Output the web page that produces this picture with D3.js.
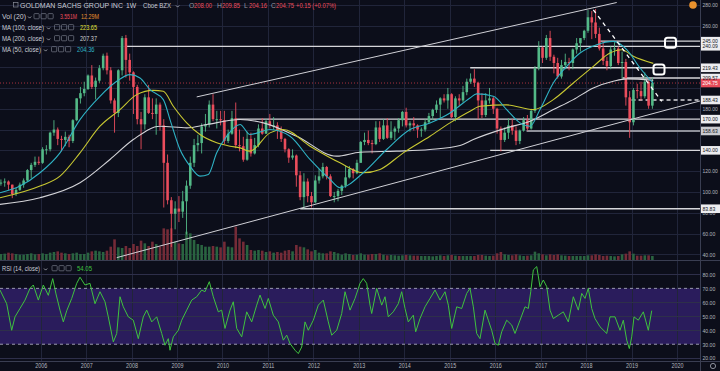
<!DOCTYPE html>
<html><head><meta charset="utf-8">
<script src="https://cdnjs.cloudflare.com/ajax/libs/d3/7.8.5/d3.min.js"></script>
<style>
html,body{margin:0;padding:0;background:#0c0e1a;overflow:hidden}
svg{display:block}
text{font-family:"Liberation Sans",Arial,sans-serif}
</style></head><body>
<svg id="c" width="720" height="371"></svg>
<script>
// ---------- DATA (monthly candles, Jan 2005 .. Jun 2019) ----------
const startYear = 2005;
const open = [
104,108,109,110,107,98,102,107,111,121,126,129,
128,141,141,157,160,151,150,153,149,169,190,195,
199,212,201,207,219,231,217,188,176,217,248,227,
215,201,170,165,191,176,175,184,164,128,92,79,
84,81,91,106,128,145,147,163,165,184,170,170,
169,149,156,171,145,144,131,151,137,145,161,156,
168,164,164,159,151,141,133,135,116,95,110,96,
90,111,115,124,115,96,96,101,106,114,122,118,
128,148,150,147,146,162,151,164,152,158,161,169,
177,164,166,164,160,160,167,173,179,184,190,188,
194,172,190,188,196,206,209,205,188,174,188,190,
180,161,150,157,164,159,149,159,169,161,178,219,
239,229,248,230,224,211,222,225,224,237,243,248,
255,268,263,252,238,226,221,237,238,224,225,191,
167,198,197,192,206,183];
const high = [
110,112,113,111,107,104,109,113,122,128,134,134,
143,145,158,169,162,154,158,155,170,190,201,206,
213,222,210,222,233,234,220,190,218,250,251,233,
216,203,177,194,203,190,190,186,170,136,95,91,
96,101,111,134,151,155,166,175,188,194,178,178,
178,160,178,186,160,153,158,157,152,165,171,170,
175,172,167,163,152,142,141,136,120,118,113,100,
116,122,128,125,117,100,103,107,125,125,123,131,
149,157,159,150,168,168,170,171,168,163,171,178,
181,168,172,165,162,170,176,180,188,191,194,200,
195,192,194,202,209,214,218,206,195,195,200,192,
181,163,162,171,170,163,160,172,174,180,221,245,
240,251,255,232,229,227,233,229,238,248,248,256,
275,274,276,258,245,230,240,244,240,235,228,197,
200,204,206,215,207,210];
const low = [
103,106,105,102,94,96,101,104,110,113,124,126,
127,136,139,154,145,139,144,143,147,168,185,192,
198,199,189,205,217,213,185,157,172,212,210,207,
175,165,141,160,175,170,155,159,85,88,47,64,
71,75,59,103,124,139,137,158,162,168,161,164,
146,147,155,142,139,129,130,134,136,143,155,156,
161,160,151,148,138,128,131,105,92,84,90,85,
89,108,113,112,95,90,91,97,104,113,113,117,
128,145,145,137,145,148,150,151,150,150,157,163,
162,158,159,152,153,158,166,169,176,171,186,180,
171,168,183,186,193,204,201,170,171,172,185,175,
156,139,148,151,155,145,146,158,159,160,176,217,
224,227,226,214,209,209,218,217,218,233,235,246,
253,247,248,236,222,217,218,231,222,209,183,152,
164,190,188,190,180,180];
const close = [
108,109,110,107,98,102,107,111,121,126,129,128,
141,141,157,160,151,150,153,149,169,190,195,199,
212,201,207,219,231,217,188,176,217,248,227,215,
201,170,165,191,176,175,184,164,128,92,79,84,
81,91,106,128,145,147,163,165,184,170,170,169,
149,156,171,145,144,131,151,137,145,161,156,168,
164,164,159,151,141,133,135,116,95,110,96,90,
111,115,124,115,96,96,101,106,114,122,118,128,
148,150,147,146,162,151,164,152,158,161,169,177,
164,166,164,160,160,167,173,179,184,190,188,194,
172,190,188,196,206,209,205,188,174,188,190,180,
161,150,157,164,159,149,159,169,161,178,219,239,
229,248,230,224,211,222,225,224,237,243,248,255,
268,263,252,238,226,221,237,238,224,225,191,167,
198,197,192,206,183,204.75];
// average weekly volume per month, millions
const volume = [
20,18,19,22,20,18,16,16,18,20,17,18,
20,18,22,24,26,22,20,18,20,22,18,18,
22,26,28,26,24,28,40,62,38,36,42,36,
48,42,58,50,42,55,48,40,95,92,95,55,
50,48,85,80,60,48,45,40,40,42,40,38,
55,40,38,100,65,55,45,30,28,30,28,24,
26,22,24,22,28,30,26,45,40,38,32,26,
30,22,20,20,26,24,20,16,20,18,15,16,
20,16,16,18,18,20,16,14,15,14,13,14,
15,14,13,13,12,12,12,11,12,14,12,14,
15,13,12,12,12,12,12,15,15,13,12,13,
20,24,17,15,14,17,14,12,13,14,25,20,
17,14,17,15,17,14,13,12,12,12,12,12,
14,14,17,15,12,13,12,11,12,17,19,26,
19,13,13,14,14,12];

// moving averages (decimal year, value)
const ma50T = [2005.105,2005.545,2005.985,2006.425,2006.865,2007.305,2007.673,2007.965,2008.185,2008.405,2008.698,2008.845,2009.065,2009.285,2009.505,2009.688,2009.873,2010.093,2010.386,2010.605,2011.045,2011.485,2011.926,2012.366,2012.586,2013.098,2013.613,2014.126,2014.566,2015.006,2015.446,2015.593,2015.958,2016.253,2016.546,2016.766,2016.986,2017.279,2017.573,2017.866,2018.234,2018.599,2018.894,2019.187,2019.479];
const ma50V = [99.2,105.6,118.4,137.6,169.6,192.0,206.4,212.8,209.6,198.4,188.8,169.6,140.8,124.8,115.2,116.8,137.6,153.6,164.8,155.2,160.0,153.6,131.2,112.0,104.0,118.4,140.8,160.0,166.4,176.0,190.4,194.3,192.0,179.2,166.4,163.2,179.2,204.8,220.8,233.6,241.6,244.8,236.8,219.2,204.36];
const ma100T = [2005.105,2005.985,2006.425,2006.865,2007.305,2007.745,2008.113,2008.478,2008.698,2008.918,2009.213,2009.505,2009.873,2010.166,2010.386,2010.605,2011.045,2011.338,2011.926,2012.586,2013.098,2013.466,2013.978,2014.566,2015.006,2015.446,2015.666,2016.253,2016.839,2017.279,2017.719,2018.159,2018.526,2018.783,2019.039,2019.479];
const ma100V = [94.4,105.6,115.2,137.6,163.2,179.2,193.6,197.7,196.8,182.4,166.4,155.2,147.2,144.0,142.4,139.2,156.8,160.0,144.0,128.0,118.4,121.6,137.6,153.6,166.4,177.6,182.4,183.7,179.2,188.8,204.8,220.8,233.6,236.8,230.4,223.65];
const ma200T = [2005.105,2005.985,2006.865,2007.525,2008.038,2008.625,2009.213,2009.653,2010.386,2010.898,2011.633,2012.513,2013.026,2013.833,2014.566,2015.226,2015.519,2016.253,2016.766,2017.279,2017.719,2018.159,2018.599,2018.894,2019.479];
const ma200V = [88.0,94.4,108.8,131.2,150.4,163.2,161.6,164.8,169.6,166.4,153.6,134.4,138.2,139.2,140.8,144.6,150.4,161.6,168.0,179.2,188.8,200.0,206.4,208.7,207.37];

// RSI(14)
const rsiT = [2005.105,2005.252,2005.362,2005.435,2005.545,2005.655,2005.765,2005.838,2005.948,2006.058,2006.168,2006.265,2006.337,2006.425,2006.498,2006.573,2006.683,2006.793,2006.865,2006.975,2007.085,2007.195,2007.305,2007.415,2007.488,2007.598,2007.673,2007.745,2007.818,2007.928,2008.038,2008.148,2008.258,2008.333,2008.443,2008.553,2008.663,2008.735,2008.808,2008.845,2008.918,2009.028,2009.103,2009.213,2009.323,2009.433,2009.543,2009.615,2009.710,2009.798,2009.908,2009.983,2010.055,2010.166,2010.238,2010.313,2010.423,2010.533,2010.643,2010.753,2010.826,2010.936,2011.008,2011.118,2011.228,2011.338,2011.413,2011.486,2011.596,2011.668,2011.743,2011.816,2011.888,2011.998,2012.108,2012.218,2012.328,2012.403,2012.513,2012.623,2012.696,2012.806,2012.916,2013.026,2013.098,2013.173,2013.246,2013.283,2013.393,2013.503,2013.576,2013.648,2013.758,2013.868,2013.943,2014.016,2014.088,2014.198,2014.251,2014.346,2014.456,2014.566,2014.676,2014.786,2014.896,2014.969,2015.043,2015.153,2015.263,2015.373,2015.446,2015.519,2015.593,2015.666,2015.776,2015.849,2015.923,2015.996,2016.069,2016.143,2016.253,2016.364,2016.436,2016.546,2016.656,2016.729,2016.782,2016.839,2016.914,2016.986,2017.059,2017.134,2017.206,2017.279,2017.389,2017.499,2017.609,2017.719,2017.829,2017.904,2017.976,2018.049,2018.124,2018.196,2018.306,2018.454,2018.526,2018.636,2018.746,2018.819,2018.894,2018.951,2019.004,2019.054,2019.149,2019.259,2019.369,2019.444];
const rsiV = [68.8,59,40,49.6,55.6,61.6,70,72.4,61.6,72.4,65,77,66,54.4,46,54,62.8,73.6,78,72.4,73.6,59,67.6,60.4,49.6,31.7,37.7,64,56.8,49.6,47.2,34,49.6,54.4,46,49.6,37.7,29.3,34,25.7,35.3,40,47.2,54.4,61.6,64,68.8,67.6,74.8,64,53.2,54.4,41.3,54.4,60.4,41.3,35.3,53.2,46,58,65.2,55.6,62.8,50.8,46,32.9,36.5,30.5,25.7,23.3,28,46,40,47.2,58,61.6,46,36.5,40,52,67.6,54.4,62.8,73.6,77,73.6,58,52,70,58,64,49.6,53.2,59,67.6,55.6,46,50.8,38.9,48.4,56.8,62.8,68.8,61.6,67.6,58,41.3,56.8,55.6,66.4,70,56.8,37.7,34,54.4,47.2,40,30.5,29.3,38.9,47.2,43.7,37.7,47.2,56.8,55.6,67.6,83.2,85.6,71.2,76,71.2,54.4,48.4,50.8,53.2,46,64,54.4,66.4,62.8,70,55.6,48.4,42.5,37.7,49.6,49.6,40,47.2,32.9,26.9,35.3,49.6,47.2,53.2,40,54.05];

// drawings
const levels      = [245.00, 240.09, 219.43, 209.57, 188.43, 170.00, 158.63, 140.00, 83.83];
const levelStarts = [2018.31, 2007.86, 2015.45, 2018.80, 2019.00, 2010.32, 2016.69, 2015.89, 2011.71];
const lastPrice = 204.75;
const upperTrend = [[2009.433,191.4],[2018.674,282.2]];
const lowerTrend = [[2007.673,36.8],[2020.506,187.5]];
const downTrend  = [[2018.159,275.2],[2019.664,187.2]];
const markerT = [2019.857, 2019.604];
const markerP = [243.4, 217.8];

// ticks (those hidden behind level boxes in the reference are left out)
const priceTicks = [40,60,80,100,120,180,260,280];
const gridTicks  = [40,60,80,100,120,140,160,180,200,220,240,260,280];
const rsiTicks = [20,30,40,50,60,70,80];
const yearTicks = [2006,2007,2008,2009,2010,2011,2012,2013,2014,2015,2016,2017,2018,2019,2020];

// ---------- STYLE ----------
const BG="#0c0e1a", GRID="#21253a", BORDER="#3a3e52", AXT="#b2b5be";
const UP="#53b987", DN="#eb4d5c", VUP="#2a6440", VDN="#742b37";
const C50="#2fb3c5", C100="#c8c832", C200="#d4d4d8", RSIC="#3fc23f";

const svg = d3.select("#c");
svg.append("rect").attr("width",720).attr("height",371).attr("fill",BG);

const x  = d3.scaleLinear().domain([2005.105, 2020.506]).range([0,700]);
const y  = d3.scaleLinear().domain([40,280]).range([254.3,4.8]);
const yv = d3.scaleLinear().domain([0,120]).range([260,220]);
const yr = d3.scaleLinear().domain([20,80]).range([358.2,274.4]);

const defs = svg.append("defs");
defs.append("clipPath").attr("id","cm").append("rect").attr("x",0).attr("y",0).attr("width",700).attr("height",260);
defs.append("clipPath").attr("id","cr").append("rect").attr("x",0).attr("y",261).attr("width",700).attr("height",100);

// ---------- MAIN PANE ----------
const gm = svg.append("g").attr("clip-path","url(#cm)");
gm.append("g").selectAll("line").data(yearTicks).join("line")
  .attr("x1",d=>Math.round(x(d))+0.5).attr("x2",d=>Math.round(x(d))+0.5)
  .attr("y1",0).attr("y2",260).attr("stroke",GRID);
gm.append("g").selectAll("line").data(gridTicks).join("line")
  .attr("x1",0).attr("x2",700).attr("y1",d=>Math.round(y(d))+0.5).attr("y2",d=>Math.round(y(d))+0.5)
  .attr("stroke",GRID);

const bars = close.map((c,i)=>{
  const t0 = startYear + i/12;
  return {t0, t1:t0+1/12, o:open[i], h:high[i], l:low[i], c, v:volume[i]};
});
const bw = d => (x(d.t1)-x(d.t0))*0.68;
const cx = d => (x(d.t0)+x(d.t1))/2;

// volume
gm.append("g").selectAll("rect").data(bars).join("rect")
  .attr("x",d=>cx(d)-bw(d)/2).attr("width",bw)
  .attr("y",d=>yv(d.v)).attr("height",d=>yv(0)-yv(d.v))
  .attr("fill",d=>d.c>=d.o?VUP:VDN);

// current price dotted line
gm.append("line").attr("x1",0).attr("x2",700)
  .attr("y1",y(lastPrice)).attr("y2",y(lastPrice))
  .attr("stroke","#a8323f").attr("stroke-width",1).attr("stroke-dasharray","1,2");

// horizontal level lines
gm.append("g").selectAll("line").data(levels).join("line")
  .attr("x1",(d,i)=>x(levelStarts[i])).attr("x2",700)
  .attr("y1",d=>y(d)).attr("y2",d=>y(d))
  .attr("stroke",d=>d===158.63?"#8e9099":"#d6d6da")
  .attr("stroke-width",d=>d===158.63?2:1.3)
  .attr("stroke-dasharray",d=>d===188.43?"4,3":null);

// candles
const gc = gm.append("g");
gc.selectAll("line").data(bars).join("line")
  .attr("x1",cx).attr("x2",cx).attr("y1",d=>y(d.h)).attr("y2",d=>y(d.l))
  .attr("stroke",d=>d.c>=d.o?UP:DN).attr("stroke-width",0.9);
gc.selectAll("rect").data(bars).join("rect")
  .attr("x",d=>cx(d)-bw(d)/2).attr("width",bw)
  .attr("y",d=>y(Math.max(d.o,d.c)))
  .attr("height",d=>Math.max(1,Math.abs(y(d.o)-y(d.c))))
  .attr("fill",d=>d.c>=d.o?UP:DN);

// moving averages
const mline = d3.line().x(d=>x(d[0])).y(d=>y(d[1])).curve(d3.curveMonotoneX);
[[ma200T,ma200V,C200],[ma100T,ma100V,C100],[ma50T,ma50V,C50]].forEach(([t,v,c])=>{
  gm.append("path").datum(d3.zip(t,v)).attr("d",mline)
    .attr("fill","none").attr("stroke",c).attr("stroke-width",1.1);
});

// trend lines
const sline = d3.line().x(d=>x(d[0])).y(d=>y(d[1]));
gm.append("path").datum(upperTrend).attr("d",sline).attr("stroke","#d0d0d6").attr("stroke-width",1).attr("fill","none");
gm.append("path").datum(lowerTrend).attr("d",sline).attr("stroke","#d0d0d6").attr("stroke-width",1).attr("fill","none");
gm.append("path").datum(downTrend).attr("d",sline).attr("stroke","#ffffff").attr("stroke-width",1.3)
  .attr("stroke-dasharray","4,4").attr("fill","none");

// square markers
gm.append("g").selectAll("rect").data(markerT).join("rect")
  .attr("x",d=>x(d)-5.5).attr("y",(d,i)=>y(markerP[i])-5)
  .attr("width",11).attr("height",10).attr("rx",2.5)
  .attr("fill","none").attr("stroke","#ffffff").attr("stroke-width",2);

// ---------- RSI PANE ----------
const gr = svg.append("g").attr("clip-path","url(#cr)");
gr.append("rect").attr("x",0).attr("width",700).attr("y",yr(70)).attr("height",yr(30)-yr(70)).attr("fill","#2a1c5c");
gr.append("g").selectAll("line").data(yearTicks).join("line")
  .attr("x1",d=>Math.round(x(d))+0.5).attr("x2",d=>Math.round(x(d))+0.5)
  .attr("y1",261).attr("y2",361).attr("stroke",GRID);
gr.append("g").selectAll("line").data(rsiTicks.filter(d=>d!==30&&d!==70)).join("line")
  .attr("x1",0).attr("x2",700).attr("y1",d=>Math.round(yr(d))+0.5).attr("y2",d=>Math.round(yr(d))+0.5)
  .attr("stroke","#2e2f4a");
gr.append("g").selectAll("line").data([70,30]).join("line")
  .attr("x1",0).attr("x2",700).attr("y1",d=>yr(d)).attr("y2",d=>yr(d))
  .attr("stroke","#9a9aae").attr("stroke-dasharray","3,3");
gr.append("path").datum(d3.zip(rsiT,rsiV))
  .attr("d",d3.line().x(d=>x(d[0])).y(d=>yr(d[1])))
  .attr("fill","none").attr("stroke",RSIC).attr("stroke-width",1);

// ---------- BORDERS ----------
svg.append("line").attr("x1",0).attr("x2",720).attr("y1",260.5).attr("y2",260.5).attr("stroke",BORDER);
svg.append("line").attr("x1",0).attr("x2",720).attr("y1",361.5).attr("y2",361.5).attr("stroke",BORDER);
svg.append("line").attr("x1",700.5).attr("x2",700.5).attr("y1",0).attr("y2",371).attr("stroke",BORDER);

// ---------- AXES ----------
function styleAxis(g, len, fs){
  g.select(".domain").remove();
  g.selectAll(".tick line").remove();
  g.selectAll("text").attr("fill",AXT).style("font-size",fs)
    .attr("textLength",len).attr("lengthAdjust","spacingAndGlyphs");
}
const fmt = d3.format(".2f");
const ay = svg.append("g").attr("transform","translate(700,0)")
  .call(d3.axisRight(y).tickValues(priceTicks).tickFormat(fmt).tickSize(0).tickPadding(2.5));
styleAxis(ay, d=>fmt(d).length*2.55, "5.6px");
const ar = svg.append("g").attr("transform","translate(700,0)")
  .call(d3.axisRight(yr).tickValues(rsiTicks).tickFormat(fmt).tickSize(0).tickPadding(2.5));
styleAxis(ar, 12.8, "5.6px");
const ax = svg.append("g").attr("transform","translate(0,362)")
  .call(d3.axisBottom(x).tickValues(yearTicks).tickFormat(d3.format("d")).tickSize(0).tickPadding(2));
styleAxis(ax, 12, "6.3px");

// level boxes on the price axis
const boxes = levels.map(p=>({p, fill:p===158.63?"#c9cad0":"#ececef", tc:"#131722"}))
  .concat([{p:lastPrice, fill:"#e84c5a", tc:"#ffffff"}]);
const gb = svg.append("g");
gb.selectAll("rect").data(boxes).join("rect")
  .attr("x",701).attr("width",19).attr("y",d=>y(d.p)-4.3).attr("height",8.6).attr("fill",d=>d.fill);
gb.selectAll("text").data(boxes).join("text")
  .attr("x",702.5).attr("y",d=>y(d.p)+2.1).text(d=>fmt(d.p))
  .attr("fill",d=>d.tc).style("font-size","5.6px")
  .attr("textLength",d=>fmt(d.p).length*2.55).attr("lengthAdjust","spacingAndGlyphs");

// earnings marker & settings icon
svg.append("circle").attr("cx",693).attr("cy",5).attr("r",3.8).attr("fill","#e8912d");
svg.append("circle").attr("cx",713).attr("cy",366).attr("r",2.6).attr("fill","none").attr("stroke","#8a8e9a").attr("stroke-width",1);

// ---------- LEGENDS ----------
const LT="#c9ccd6", FS="6.8px";
function txt(xp,yp,s,c,len){
  const t = svg.append("text").attr("x",xp).attr("y",yp).text(s).attr("fill",c).style("font-size",FS);
  if(len) t.attr("textLength",len).attr("lengthAdjust","spacingAndGlyphs");
  return t;
}
function chev(xp,yp){ svg.append("path").attr("d",`M${xp},${yp-1.5} l1.6,1.6 l1.6,-1.6`).attr("fill","none").attr("stroke",LT).attr("stroke-width",0.7); }
function icons(xp,yp){ [0,7,14].forEach(o=>svg.append("rect").attr("x",xp+o).attr("y",yp-5).attr("width",5.2).attr("height",5.2).attr("rx",0.8).attr("fill","none").attr("stroke","#767a88").attr("stroke-width",0.7)); }

svg.append("rect").attr("x",13.5).attr("y",2.5).attr("width",4.5).attr("height",4.5).attr("fill","none").attr("stroke","#8a8e9a").attr("stroke-width",0.7);
txt(20,7.6,"GOLDMAN SACHS GROUP INC",LT,103);
txt(126,7.6,"1W",LT);
txt(143,7.6,"Cboe BZX",LT,28);
chev(176,7);
const ohlc = [["O","208.00",189],["H","209.85",217],["L","204.16",244],["C","204.75",271]];
ohlc.forEach(([k,v,xp])=>{ txt(xp,7.6,k,"#9598a1"); txt(xp+5,7.6,v,DN,18); });
txt(296,7.6,"+0.15 (+0.07%)",DN,40);

txt(2,18.6,"Vol (20)",LT,24); chev(28,18); icons(34,18.6); txt(60,18.6,"3.551M",DN,17); txt(81,18.6,"12.29M","#e8912d",18);
txt(2,29.6,"MA (100, close)",LT,42); chev(47,29); icons(54.5,29.6); txt(80,29.6,"223.65","#e2e23a",17);
txt(2,40.6,"MA (200, close)",LT,42); chev(47,40); icons(54.5,40.6); txt(80,40.6,"207.37",C200,17);
txt(2,51.6,"MA (50, close)",LT,39); chev(44,51); icons(51.5,51.6); txt(77,51.6,"204.36",C50,17.5);
txt(2,270.6,"RSI (14, close)",LT,38); chev(44,270); icons(52,270.6); txt(77,270.6,"54.05",RSIC,15);
</script>
</body></html>
